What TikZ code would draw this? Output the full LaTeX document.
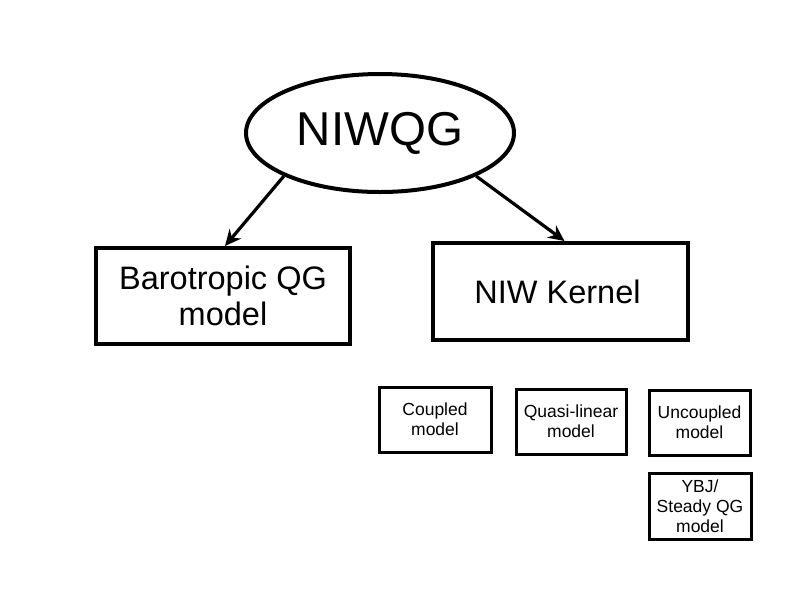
\documentclass[tikz,border=0pt]{standalone}
\usepackage{fontspec}
\setmainfont{Liberation Sans}
\usetikzlibrary{shapes.geometric,arrows.meta}
\begin{document}
\begin{tikzpicture}[x=1pt,y=-1pt,
  bigbox/.style={draw, line width=4pt, inner sep=0pt, align=center,
    font=\fontsize{32.5}{36}\selectfont},
  smallbox/.style={draw, line width=3pt, inner sep=0pt, align=center,
    font=\fontsize{17.5}{20}\selectfont},
  arr/.style={line width=3.2pt, -{Stealth[length=16pt,width=15pt]}}]
\useasboundingbox (0,0) rectangle (794,595);
\node[ellipse, draw, line width=4pt, minimum width=268pt, minimum height=118pt,
  inner sep=0pt, font=\fontsize{47.5}{50}\selectfont] (niwqg) at (380,133) {NIWQG};
\node[bigbox, minimum width=254pt, minimum height=96pt] (baro) at (223,296)
  {Barotropic QG\\model};
\node[bigbox, minimum width=255pt, minimum height=97pt] (niw) at (560.5,291.5)
  {\hspace*{-6pt}NIW Kernel};
\node[smallbox, minimum width=112pt, minimum height=65pt] (coupled) at (435,419.5)
  {Coupled\\model};
\node[smallbox, minimum width=110pt, minimum height=65pt] (quasi) at (571,421.5)
  {Quasi-linear\\model};
\node[smallbox, minimum width=101pt, minimum height=65pt] (uncoupled) at (699.5,422.5)
  {Uncoupled\\model};
\node[smallbox, minimum width=102pt, minimum height=66pt] (ybj) at (700,506)
  {YBJ/\\Steady QG\\model};
\draw[arr] (niwqg.south west) -- ([xshift=2pt]baro.north);
\draw[arr] (niwqg.south east) -- ([xshift=4pt]niw.north);
\end{tikzpicture}
\end{document}
